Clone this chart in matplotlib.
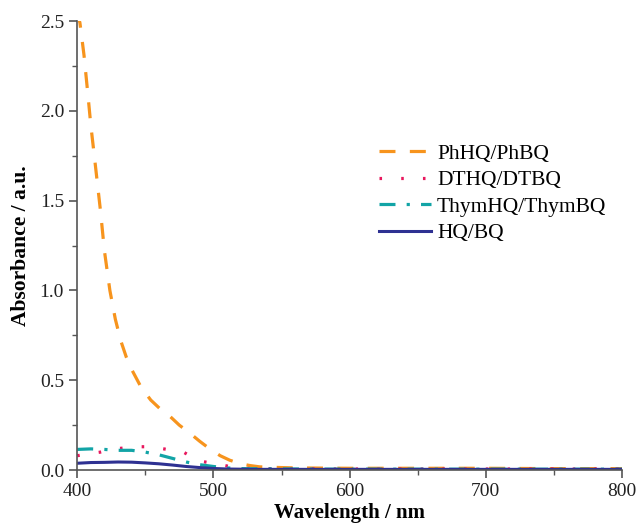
import matplotlib.pyplot as plt
from matplotlib.ticker import MultipleLocator

plt.rcParams['font.family'] = ['Liberation Serif', 'DejaVu Serif']

wl_ph = [400, 402, 405, 408, 410, 413, 417, 420, 424, 428, 432, 436, 440, 447, 454, 461, 468, 475,
         482, 490, 497, 505, 512, 520, 527, 534, 545, 560, 600, 650, 700, 750, 800]
ab_ph = [2.55, 2.49, 2.31, 2.08, 1.92, 1.72, 1.45, 1.22, 1.0, 0.84, 0.72, 0.63, 0.56, 0.46, 0.39, 0.34,
         0.30, 0.25, 0.21, 0.16, 0.12, 0.08, 0.055, 0.035, 0.025, 0.018, 0.015, 0.012, 0.01, 0.01, 0.01, 0.008, 0.008]

wl_dt = [400, 408, 417, 430, 445, 455, 462, 470, 478, 485, 490, 498, 505, 512, 520, 540, 600, 700, 800]
ab_dt = [0.08, 0.09, 0.10, 0.12, 0.13, 0.13, 0.12, 0.11, 0.10, 0.07, 0.05, 0.04, 0.03, 0.02, 0.01, 0.008, 0.006, 0.006, 0.006]

wl_th = [400, 410, 420, 430, 440, 450, 460, 470, 480, 490, 500, 510, 520, 560, 600, 700, 800]
ab_th = [0.115, 0.118, 0.115, 0.11, 0.11, 0.10, 0.085, 0.065, 0.045, 0.03, 0.02, 0.012, 0.008, 0.006, 0.005, 0.005, 0.005]

wl_hq = [400, 410, 420, 430, 440, 450, 460, 470, 480, 490, 500, 510, 530, 560, 600, 700, 800]
ab_hq = [0.038, 0.042, 0.043, 0.045, 0.044, 0.040, 0.035, 0.028, 0.02, 0.014, 0.009, 0.006, 0.004, 0.004, 0.004, 0.004, 0.004]

fig = plt.figure(figsize=(6.38, 5.27), dpi=100)
ax = fig.add_axes([0.121, 0.108, 0.854, 0.852])

ax.plot(wl_ph, ab_ph, color='#F7941D', lw=2.3, dashes=(5, 4.5), label='PhHQ/PhBQ')
ax.plot(wl_dt, ab_dt, color='#E8175D', lw=2.3, dashes=(0.8, 6), label='DTHQ/DTBQ')
ax.plot(wl_th, ab_th, color='#12A4A6', lw=2.3, dashes=(5, 3.5, 1, 3.5), label='ThymHQ/ThymBQ')
ax.plot(wl_hq, ab_hq, color='#2E3192', lw=2.2, label='HQ/BQ')

ax.set_xlim(400, 800)
ax.set_ylim(0, 2.5)
ax.xaxis.set_minor_locator(MultipleLocator(50))
ax.yaxis.set_minor_locator(MultipleLocator(0.25))
ax.set_xticks([400, 500, 600, 700, 800])
ax.set_yticks([0.0, 0.5, 1.0, 1.5, 2.0, 2.5])
ax.set_yticklabels(['0.0', '0.5', '1.0', '1.5', '2.0', '2.5'])

for s in ['top', 'right']:
    ax.spines[s].set_visible(False)
for s in ['left', 'bottom']:
    ax.spines[s].set_color('#555555')
    ax.spines[s].set_linewidth(1.2)
ax.tick_params(which='major', direction='out', length=6, width=1.2, color='#555555', labelsize=14, labelcolor='#222222')
ax.tick_params(which='minor', direction='out', length=3.5, width=1.0, color='#555555')

ax.set_xlabel('Wavelength / nm', fontsize=15, fontweight='bold', labelpad=2)
ax.set_ylabel('Absorbance / a.u.', fontsize=15.5, fontweight='bold', labelpad=6)

ax.legend(loc='upper left', bbox_to_anchor=(0.538, 0.746), frameon=False, fontsize=15.5,
          handlelength=2.4, handletextpad=0.3, labelspacing=0.3, borderaxespad=0)

fig.savefig('out.png', dpi=100)
